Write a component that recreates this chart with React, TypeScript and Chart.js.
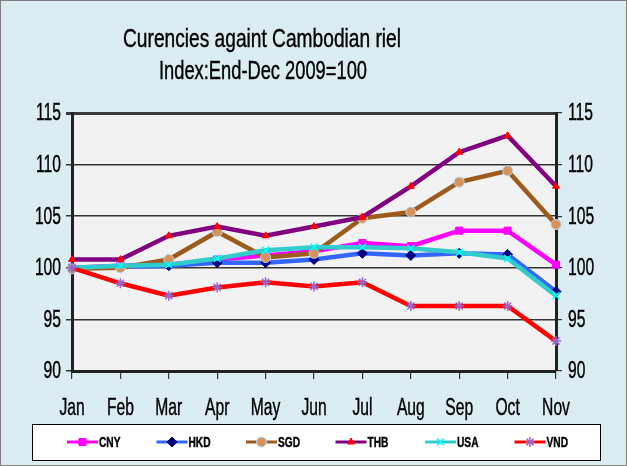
import React, { useEffect, useRef } from "react";
import { Chart, registerables, PointElement } from "chart.js";

Chart.register(...registerables);

const months = ["Jan", "Feb", "Mar", "Apr", "May", "Jun", "Jul", "Aug", "Sep", "Oct", "Nov"];
const yTicks = [90, 95, 100, 105, 110, 115];

const cny = [100.0, 100.2, 100.3, 100.8, 101.2, 101.6, 102.4, 102.1, 103.6, 103.6, 100.3];
const hkd = [100.0, 100.1, 100.2, 100.5, 100.5, 100.8, 101.4, 101.2, 101.4, 101.3, 97.7];
const sgd = [99.9, 100.0, 100.8, 103.5, 101.0, 101.4, 104.8, 105.4, 108.3, 109.4, 104.2];
const thb = [100.8, 100.8, 103.1, 104.0, 103.1, 104.0, 104.9, 107.9, 111.2, 112.8, 107.9];
const usa = [100.0, 100.2, 100.3, 100.9, 101.7, 102.0, 102.0, 101.9, 101.5, 100.9, 97.3];
const vnd = [100.0, 98.5, 97.3, 98.1, 98.6, 98.2, 98.6, 96.3, 96.3, 96.3, 92.9];

const titleLines = ["Curencies againt Cambodian riel", "Index:End-Dec 2009=100"];

const FONT = "'Liberation Sans', Arial, Helvetica, sans-serif";

const series = [
  { label: "CNY", data: cny, line: "#FF00FF", style: "rect", fill: "#FF00FF", stroke: "#FF00FF", r: 5 },
  { label: "HKD", data: hkd, line: "#3366FF", style: "rectRot", fill: "#000080", stroke: "#000080", r: 5 },
  { label: "SGD", data: sgd, line: "#9C5A1C", style: "circle", fill: "#D8935A", stroke: "#B8D4EE", r: 5 },
  { label: "THB", data: thb, line: "#800080", style: "triangle", fill: "#FF0000", stroke: "#FF0000", r: 4 },
  { label: "USA", data: usa, line: "#33CCCC", style: "crossRot", fill: "#00FFFF", stroke: "#00FFFF", r: 5 },
  { label: "VND", data: vnd, line: "#FF0000", style: "star", fill: "#9966CC", stroke: "#9966CC", r: 5 },
];

// draw horizontally condensed text
function drawText(
  ctx: CanvasRenderingContext2D,
  text: string,
  x: number,
  y: number,
  size: number,
  sx: number,
  align: "left" | "right" | "center",
  weight = "normal"
) {
  ctx.save();
  ctx.font = `${weight} ${size}px ${FONT}`;
  ctx.textBaseline = "middle";
  ctx.textAlign = align;
  ctx.fillStyle = "#000";
  ctx.strokeStyle = "#000";
  ctx.lineWidth = 0.4;
  ctx.translate(x, y);
  ctx.scale(sx, 1);
  ctx.fillText(text, 0, 0);
  ctx.strokeText(text, 0, 0);
  ctx.restore();
}

function drawTextWidth(ctx: CanvasRenderingContext2D, text: string, cx: number, y: number, size: number, targetW: number) {
  ctx.save();
  ctx.font = `normal ${size}px ${FONT}`;
  const w = ctx.measureText(text).width;
  ctx.restore();
  drawText(ctx, text, cx, y, size, targetW / w, "center");
}

const decorPlugin = {
  id: "decor",
  beforeDraw(chart: any) {
    const { ctx, width, height, chartArea } = chart;
    ctx.save();
    ctx.fillStyle = "#DBEDF3";
    ctx.fillRect(0, 0, width, height);
    ctx.strokeStyle = "#7F7F7F";
    ctx.lineWidth = 1;
    ctx.strokeRect(0.5, 0.5, width - 1, height - 1);
    ctx.fillStyle = "#F2F2F2";
    ctx.fillRect(chartArea.left, chartArea.top, chartArea.right - chartArea.left, chartArea.bottom - chartArea.top);
    ctx.restore();
  },
  afterDraw(chart: any) {
    const { ctx, width, height } = chart;
    // title
    drawTextWidth(ctx, titleLines[0], 262, 40, 25, 278);
    drawTextWidth(ctx, titleLines[1], 263, 72, 25, 208);
    // tick labels
    const xs = chart.scales.x;
    months.forEach((m, i) => {
      drawText(ctx, m, xs.getPixelForTick(i), 409, 23, 0.68, "center");
    });
    const ys = chart.scales.y;
    const ys2 = chart.scales.y2;
    yTicks.forEach((v) => {
      drawText(ctx, String(v), 61, ys.getPixelForValue(v) + 1, 23, 0.68, "right");
      drawText(ctx, String(v), 568, ys2.getPixelForValue(v) + 1, 23, 0.68, "left");
    });
    // legend
    ctx.save();
    ctx.fillStyle = "#FFFFFF";
    ctx.fillRect(32, 424, 568, 36);
    ctx.strokeStyle = "#000";
    ctx.lineWidth = 1;
    ctx.strokeRect(32.5, 424.5, 568, 36);
    const cy = 442;
    const area = { left: 0, top: 0, right: width, bottom: height };
    chart.data.datasets.forEach((ds: any, i: number) => {
      const x0 = 67 + i * 89.5;
      ctx.strokeStyle = ds.borderColor;
      ctx.lineWidth = 3;
      ctx.beginPath();
      ctx.moveTo(x0, cy);
      ctx.lineTo(x0 + 31, cy);
      ctx.stroke();
      const p: any = new (PointElement as any)({
        x: x0 + 15.5,
        y: cy,
        options: {
          pointStyle: ds.pointStyle,
          radius: ds.pointRadius,
          borderWidth: ds.pointBorderWidth,
          backgroundColor: ds.pointBackgroundColor,
          borderColor: ds.pointBorderColor,
          rotation: 0,
          hitRadius: 1,
          hoverRadius: 1,
        },
      });
      p.draw(ctx, area);
      drawText(ctx, ds.label, x0 + 32, cy + 1, 15, 0.68, "left", "bold");
    });
    ctx.restore();
  },
};

export default function App() {
  const ref = useRef<HTMLCanvasElement>(null);
  useEffect(() => {
    if (!ref.current) return;
    const hidden = "rgba(0,0,0,0)";
    const chart = new Chart(ref.current, {
      type: "line",
      data: {
        labels: months,
        datasets: series.map((s, i) => ({
          label: s.label,
          data: s.data,
          borderColor: s.line,
          borderWidth: 4.5,
          pointStyle: s.style as any,
          pointRadius: s.r,
          pointBackgroundColor: s.fill,
          pointBorderColor: s.stroke,
          pointBorderWidth: s.style === "crossRot" || s.style === "star" ? 1.5 : 1,
          tension: 0,
          fill: false,
          order: 10 - i,
          yAxisID: "y",
        })),
      },
      options: {
        responsive: false,
        animation: false,
        devicePixelRatio: 1,
        layout: { padding: { top: 113, left: 0, right: 0, bottom: 0 } },
        plugins: {
          legend: { display: false },
          title: { display: false },
          tooltip: { enabled: false },
        },
        scales: {
          x: {
            type: "category",
            offset: false,
            grid: { drawOnChartArea: false, drawTicks: true, tickLength: 8, color: "#333", lineWidth: 1.2 },
            border: { color: "#222", width: 3 },
            ticks: { color: hidden, maxRotation: 0, autoSkip: false },
            afterFit: (s: any) => {
              s.height = 95;
            },
          },
          y: {
            position: "left",
            min: yTicks[0],
            max: yTicks[yTicks.length - 1],
            afterBuildTicks: (s: any) => {
              s.ticks = yTicks.map((v) => ({ value: v }));
            },
            grid: {
              color: (c: any) => (c.tick && c.tick.value === 115 ? "#3A3A3A" : "#333"),
              lineWidth: (c: any) => (c.tick && c.tick.value === 115 ? 3 : 1.5),
              tickLength: 6,
            },
            border: { color: "#222", width: 3 },
            ticks: { color: hidden },
            afterFit: (s: any) => {
              s.width = 72;
            },
          },
          y2: {
            position: "right",
            min: yTicks[0],
            max: yTicks[yTicks.length - 1],
            afterBuildTicks: (s: any) => {
              s.ticks = yTicks.map((v) => ({ value: v }));
            },
            grid: { drawOnChartArea: false, tickLength: 6, color: "#333", lineWidth: 1.2 },
            border: { color: "#222", width: 3 },
            ticks: { color: hidden },
            afterFit: (s: any) => {
              s.width = 71;
            },
          },
        },
      },
      plugins: [decorPlugin],
    });
    return () => chart.destroy();
  }, []);
  return (
    <div style={{ position: "fixed", left: 0, top: 0, width: 627, height: 466 }}>
      <canvas ref={ref} width={627} height={466} style={{ display: "block" }} />
    </div>
  );
}
